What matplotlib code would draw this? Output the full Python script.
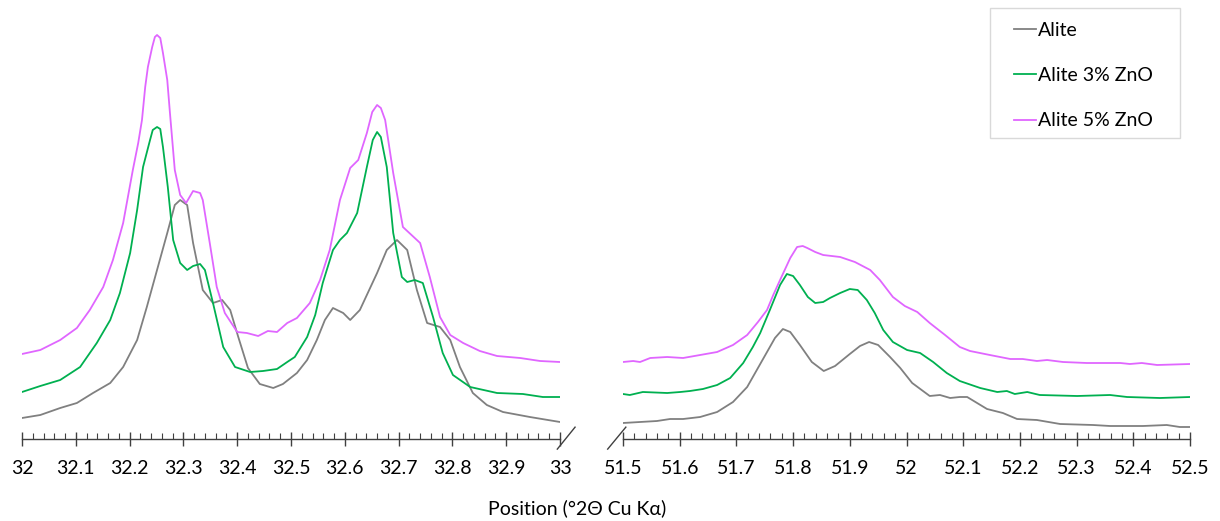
import matplotlib
matplotlib.use("Agg")
import matplotlib.pyplot as plt
from matplotlib.patches import Rectangle
from matplotlib.ticker import MultipleLocator, FuncFormatter

plt.rcParams['font.family'] = ['Lato', 'DejaVu Sans']

LABELS = ["Alite", "Alite 3% ZnO", "Alite 5% ZnO"]
COLORS = ['#808080', '#00B050', '#E066FF']

# left window, 32 - 33 deg
L_ALITE_X = [32.000, 32.034, 32.071, 32.102, 32.132, 32.164, 32.188, 32.214, 32.232, 32.251,
             32.270, 32.284, 32.294, 32.307, 32.318, 32.336, 32.355, 32.372, 32.387, 32.402,
             32.420, 32.442, 32.467, 32.485, 32.511, 32.530, 32.548, 32.563, 32.578, 32.597,
             32.610, 32.628, 32.660, 32.678, 32.697, 32.716, 32.734, 32.753, 32.777, 32.796,
             32.814, 32.838, 32.864, 32.894, 32.944, 33.000]
L_ALITE_Y = [19, 22, 29, 34, 44, 54, 70, 97, 130, 167,
             204, 232, 237, 232, 194, 147, 134, 137, 127, 100,
             69, 53, 49, 53, 64, 77, 97, 117, 129, 124,
             117, 127, 164, 187, 197, 187, 147, 114, 110, 97,
             70, 44, 32, 25, 20, 15]

L_ZN3_X = [32.000, 32.034, 32.071, 32.108, 32.139, 32.164, 32.182, 32.201, 32.214, 32.225,
           32.238, 32.243, 32.251, 32.257, 32.262, 32.271, 32.281, 32.294, 32.307, 32.318,
           32.331, 32.340, 32.355, 32.374, 32.396, 32.424, 32.448, 32.474, 32.493, 32.507,
           32.530, 32.545, 32.559, 32.578, 32.591, 32.604, 32.623, 32.641, 32.652, 32.660,
           32.667, 32.678, 32.690, 32.706, 32.716, 32.730, 32.745, 32.764, 32.782, 32.801,
           32.833, 32.883, 32.931, 32.968, 33.000]
L_ZN3_Y = [45, 51, 57, 70, 94, 117, 144, 184, 227, 270,
           297, 307, 310, 308, 290, 250, 197, 174, 167, 171,
           173, 167, 134, 90, 70, 65, 66, 68, 75, 80,
           100, 122, 154, 187, 197, 204, 224, 270, 297, 305,
           300, 270, 204, 160, 155, 157, 154, 120, 84, 62,
           50, 44, 43, 40, 40]

L_ZN5_X = [32.000, 32.034, 32.071, 32.102, 32.126, 32.151, 32.169, 32.188, 32.206, 32.216,
           32.223, 32.229, 32.234, 32.242, 32.247, 32.251, 32.257, 32.262, 32.270, 32.275,
           32.284, 32.294, 32.305, 32.318, 32.331, 32.336, 32.349, 32.362, 32.377, 32.400,
           32.418, 32.439, 32.457, 32.474, 32.493, 32.511, 32.535, 32.554, 32.572, 32.591,
           32.610, 32.625, 32.641, 32.651, 32.660, 32.667, 32.675, 32.690, 32.708, 32.740,
           32.758, 32.777, 32.796, 32.820, 32.851, 32.883, 32.926, 32.963, 33.000]
L_ZN5_Y = [83, 87, 97, 109, 127, 150, 177, 214, 267, 294,
           317, 350, 370, 390, 400, 402, 399, 384, 357, 324,
           267, 242, 234, 246, 244, 237, 194, 150, 124, 105,
           104, 101, 106, 105, 114, 119, 134, 157, 187, 237,
           269, 277, 304, 325, 332, 329, 317, 264, 210, 194,
           160, 120, 102, 94, 86, 81, 79, 76, 75]

# right window, 51.5 - 52.5 deg
R_ALITE_X = [51.500, 51.530, 51.560, 51.583, 51.606, 51.636, 51.666, 51.694, 51.719, 51.736,
             51.754, 51.768, 51.782, 51.795, 51.812, 51.833, 51.854, 51.874, 51.900, 51.918,
             51.934, 51.950, 51.971, 51.989, 52.010, 52.041, 52.059, 52.077, 52.094, 52.107,
             52.142, 52.170, 52.195, 52.230, 52.271, 52.329, 52.359, 52.417, 52.459, 52.482,
             52.500]
R_ALITE_Y = [14, 15, 16, 18, 18, 20, 25, 35, 50, 67,
             85, 99, 108, 105, 92, 75, 66, 71, 83, 91,
             95, 92, 80, 69, 54, 41, 42, 39, 40, 40,
             28, 24, 18, 17, 13, 12, 11, 11, 12, 10,
             10]

R_ZN3_X = [51.500, 51.512, 51.535, 51.578, 51.601, 51.618, 51.641, 51.666, 51.689, 51.712,
           51.729, 51.742, 51.759, 51.777, 51.789, 51.800, 51.812, 51.826, 51.839, 51.853,
           51.865, 51.883, 51.900, 51.914, 51.930, 51.944, 51.959, 51.976, 52.001, 52.024,
           52.047, 52.071, 52.094, 52.130, 52.160, 52.177, 52.191, 52.213, 52.235, 52.301,
           52.359, 52.389, 52.447, 52.500]
R_ZN3_Y = [43, 42, 45, 44, 45, 46, 48, 52, 59, 74,
           90, 104, 127, 152, 163, 161, 152, 140, 134, 135,
           139, 144, 148, 147, 137, 124, 107, 95, 87, 84,
           75, 64, 56, 49, 45, 46, 43, 45, 42, 41,
           42, 40, 39, 40]

R_ZN5_X = [51.500, 51.518, 51.530, 51.548, 51.578, 51.606, 51.636, 51.666, 51.694, 51.719,
           51.738, 51.754, 51.765, 51.777, 51.795, 51.807, 51.817, 51.825, 51.839, 51.853,
           51.883, 51.909, 51.936, 51.953, 51.976, 51.997, 52.019, 52.041, 52.068, 52.094,
           52.112, 52.147, 52.183, 52.205, 52.230, 52.248, 52.276, 52.318, 52.377, 52.394,
           52.415, 52.442, 52.500]
R_ZN5_Y = [75, 76, 75, 79, 80, 79, 82, 85, 92, 102,
           115, 127, 142, 157, 179, 190, 191, 189, 185, 182,
           180, 175, 167, 157, 140, 131, 125, 114, 102, 90,
           86, 82, 78, 78, 76, 77, 75, 74, 74, 73,
           74, 72, 73]

LEFT = [(L_ALITE_X, L_ALITE_Y), (L_ZN3_X, L_ZN3_Y), (L_ZN5_X, L_ZN5_Y)]
RIGHT = [(R_ALITE_X, R_ALITE_Y), (R_ZN3_X, R_ZN3_Y), (R_ZN5_X, R_ZN5_Y)]


def style_axis(ax, lo, hi):
    ax.set_xlim(lo, hi)
    ax.set_ylim(-2, 437)
    for s in ['left', 'right', 'top']:
        ax.spines[s].set_visible(False)
    ax.spines['bottom'].set_color('#404040')
    ax.spines['bottom'].set_linewidth(1.0)
    ax.set_yticks([])
    ax.xaxis.set_major_locator(MultipleLocator(0.1))
    ax.xaxis.set_minor_locator(MultipleLocator(0.02))
    ax.xaxis.set_major_formatter(FuncFormatter(lambda v, p: f"{round(v, 2):g}"))
    ax.tick_params(axis='x', which='major', direction='inout', length=10, width=1.0,
                   color='#404040', labelsize=14, pad=10)
    ax.tick_params(axis='x', which='minor', direction='in', length=4, width=0.8, color='#404040')


fig = plt.figure(figsize=(12.2, 5.21), dpi=100)
ax_l = fig.add_axes([22 / 1220, 82 / 521, 538 / 1220, 439 / 521])
ax_r = fig.add_axes([623 / 1220, 82 / 521, 567 / 1220, 439 / 521])

for (x, y), c, lab in zip(LEFT, COLORS, LABELS):
    ax_l.plot(x, y, color=c, lw=1.3, label=lab, solid_joinstyle='round')
for (x, y), c in zip(RIGHT, COLORS):
    ax_r.plot(x, y, color=c, lw=1.3, solid_joinstyle='round')

style_axis(ax_l, 32, 33)
style_axis(ax_r, 51.5, 52.5)

# axis break marks
ax_l.plot([0.995, 1.028], [-0.023, 0.027], transform=ax_l.transAxes, color='#404040', lw=1.0, clip_on=False)
ax_r.plot([-0.027, 0.005], [-0.023, 0.027], transform=ax_r.transAxes, color='#404040', lw=1.0, clip_on=False)

fig.text(577 / 1220, 1 - 508 / 521, "Position (°2Θ Cu Kα)", ha='center', va='center', fontsize=14)

# legend box drawn separately so the side padding can be wider than the top padding
fig.add_artist(Rectangle((990 / 1220, 1 - 138 / 521), 190 / 1220, 130 / 521,
                         transform=fig.transFigure, facecolor='white', edgecolor='#d9d9d9', lw=1.0))
fig.legend(loc='upper left', bbox_to_anchor=(1014 / 1220, 1 - 22 / 521), fontsize=14,
           frameon=False, handlelength=1.15, handletextpad=0.1, labelspacing=1.45,
           borderpad=0, borderaxespad=0)

fig.savefig("out.png", dpi=100)
